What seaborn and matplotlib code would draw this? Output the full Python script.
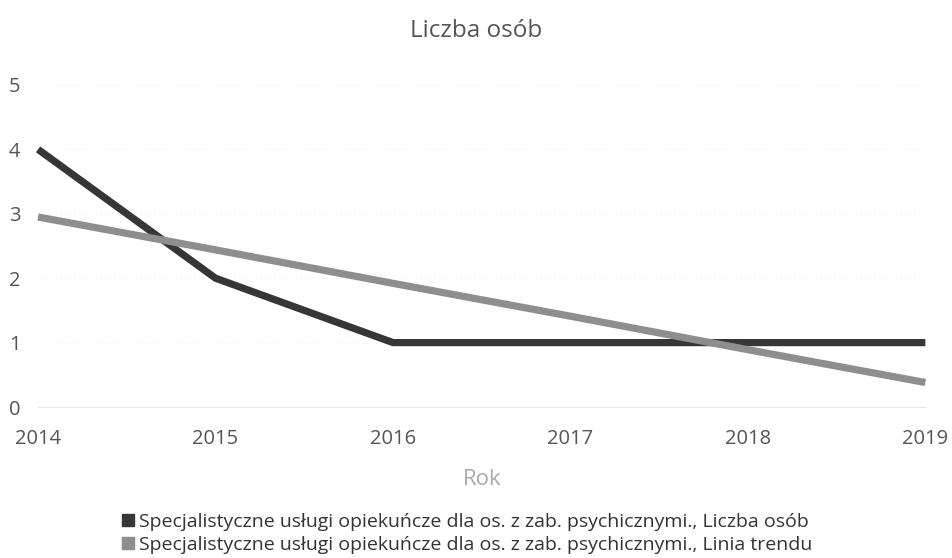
import matplotlib
matplotlib.use("Agg")
import matplotlib.pyplot as plt
import seaborn as sns
import pandas as pd
from matplotlib.lines import Line2D

years = [2014, 2015, 2016, 2017, 2018, 2019]
liczba_osob = [4, 2, 1, 1, 1, 1]
linia_trendu = [2.95, 2.44, 1.92, 1.41, 0.89, 0.38]
series_names = [
    "Specjalistyczne usługi opiekuńcze dla os. z zab. psychicznymi., Liczba osób",
    "Specjalistyczne usługi opiekuńcze dla os. z zab. psychicznymi., Linia trendu",
]
y_ticks = [0, 1, 2, 3, 4, 5]

df = pd.DataFrame({
    "Rok": years * 2,
    "value": liczba_osob + linia_trendu,
    "series": [series_names[0]] * len(years) + [series_names[1]] * len(years),
})

sns.set_theme(style="white")
plt.rcParams["font.family"] = ["Open Sans", "DejaVu Sans"]

colors = ["#363636", "#8e8e8e"]
fig = plt.figure(figsize=(9.52, 5.58), dpi=100)
ax = fig.add_axes([0.040, 0.2706, 0.932, 0.5771])

sns.lineplot(data=df, x="Rok", y="value", hue="series", palette=colors,
             linewidth=5.2, ax=ax, legend=False, sort=False)
for ln in ax.get_lines():
    ln.set_solid_capstyle("butt")
    ln.set_clip_on(False)

ax.set_xlim(2014, 2019)
ax.set_ylim(0, 5)
ax.set_yticks(y_ticks)
ax.set_xticks(years)
ax.set_xticklabels([str(y) for y in years])
ax.grid(axis="y", color="#f0f0f0", linewidth=0.8, linestyle=(0, (1, 3)))
for s in ["top", "right", "left"]:
    ax.spines[s].set_visible(False)
ax.spines["bottom"].set_color("#e6e6e6")
ax.spines["bottom"].set_linewidth(0.8)
ax.tick_params(axis="both", length=0, labelsize=14.5, colors="#555555")
ax.tick_params(axis="x", pad=16)
ax.tick_params(axis="y", pad=21)
for lbl in ax.get_yticklabels():
    lbl.set_horizontalalignment("left")
ax.set_ylabel("")
ax.set_xlabel("Rok", fontsize=16, color="#aaaaaa", labelpad=14)
fig.text(0.5, 1 - 31 / 558, "Liczba osób", ha="center", va="center",
         fontsize=17.5, color="#555555")

handles = [Line2D([0], [0], marker="s", linestyle="none", markersize=9,
                  markerfacecolor=c, markeredgecolor=c) for c in colors]
fig.legend(handles, series_names, loc="upper left", bbox_to_anchor=(0.127, 1 - 513 / 558),
           frameon=False, fontsize=14, labelcolor="#333333", handletextpad=0.25,
           labelspacing=0.25, handlelength=0.7, borderaxespad=0, borderpad=0)

fig.savefig("out.png", dpi=100)
